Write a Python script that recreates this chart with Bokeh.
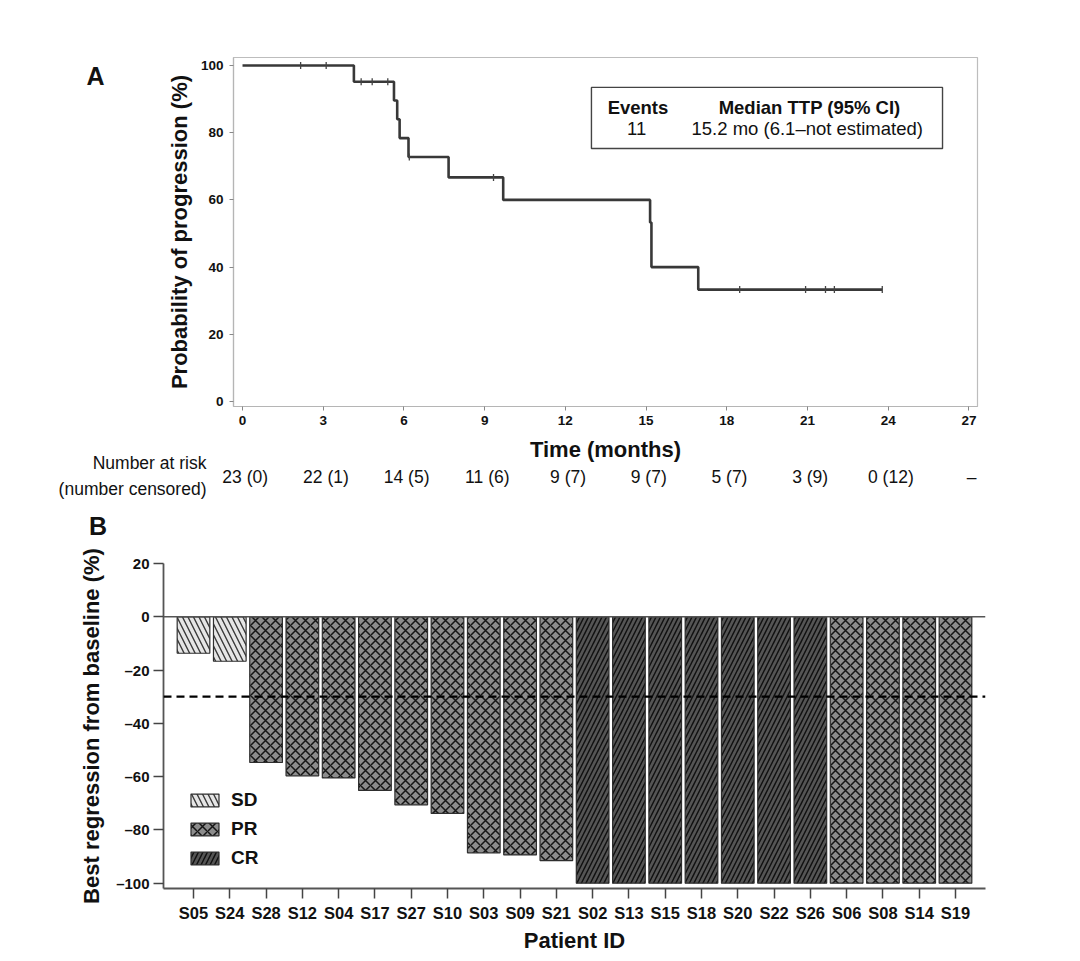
import numpy as np
from bokeh.plotting import figure
from bokeh.models import (Range1d, FixedTicker, LinearAxis, BoxAnnotation, Span,
                          Legend, LegendItem, Label)
from bokeh.core.properties import value
from bokeh.embed import file_html
from bokeh.resources import INLINE

FONT = "Liberation Sans"
INK = "#111111"

# ---------------- Panel A data (Kaplan-Meier, time to progression) ----------------
step_times = [0.0, 4.14, 5.63, 5.75, 5.84, 6.17, 7.66, 9.69, 15.15, 15.20, 16.94, 23.78]
step_probs = [100.0, 95.2, 89.6, 84.0, 78.4, 72.8, 66.7, 60.0, 53.3, 40.0, 33.3, 33.3]
censor_times = [2.16, 3.11, 4.41, 4.82, 5.40, 6.20, 9.33, 18.48, 20.93, 21.67, 22.0, 23.78]
censor_probs = [100.0, 100.0, 95.2, 95.2, 95.2, 72.8, 66.7, 33.3, 33.3, 33.3, 33.3, 33.3]
time_ticks = [0, 3, 6, 9, 12, 15, 18, 21, 24, 27]
prob_ticks = [0, 20, 40, 60, 80, 100]
risk_labels = ["23 (0)", "22 (1)", "14 (5)", "11 (6)", "9 (7)", "9 (7)",
               "5 (7)", "3 (9)", "0 (12)", "\u2013"]
n_events = "11"
median_ttp = "15.2 mo (6.1\u2013not estimated)"

# ---------------- Panel B data (waterfall) ----------------
patients = ["S05", "S24", "S28", "S12", "S04", "S17", "S27", "S10", "S03", "S09",
            "S21", "S02", "S13", "S15", "S18", "S20", "S22", "S26", "S06", "S08",
            "S14", "S19"]
regression = [-13.7, -16.7, -54.7, -59.7, -60.5, -65.2, -70.6, -73.8, -88.6, -89.4,
              -91.5, -100, -100, -100, -100, -100, -100, -100, -100, -100, -100, -100]
response = ["SD", "SD", "PR", "PR", "PR", "PR", "PR", "PR", "PR", "PR",
            "PR", "CR", "CR", "CR", "CR", "CR", "CR", "CR", "PR", "PR", "PR", "PR"]
regr_ticks = [20, 0, -20, -40, -60, -80, -100]
pr_threshold = -30

# ---------------- layout geometry (pixels) ----------------
W = 1064
A_LEFT, A_FW, A_TOP, A_FH = 233, 744, 57, 349
A_H = 431
A_X = (-0.335, 27.32)
A_Y = (-1.5, 102.4)
S_H = 114            # strip between panels (page y 431..545)
B_LEFT, B_FW, B_TOP, B_FH, B_BOT = 163, 822, 18, 325, 64


def style_axis(ax, label_size="13.5px", title_size="22px"):
    ax.minor_tick_line_color = None
    ax.major_tick_in = 0
    ax.major_label_text_font = FONT
    ax.major_label_text_font_style = "bold"
    ax.major_label_text_font_size = label_size
    ax.major_label_text_color = INK
    ax.axis_label_text_font = FONT
    ax.axis_label_text_font_style = "bold"
    ax.axis_label_text_font_size = title_size
    ax.axis_label_text_color = INK


# ---------------- Panel A ----------------
pa = figure(frame_width=A_FW, frame_height=A_FH, title=None,
            min_border_left=A_LEFT, min_border_right=W - A_LEFT - A_FW,
            min_border_top=A_TOP, min_border_bottom=A_H - A_TOP - A_FH,
            x_range=Range1d(*A_X), y_range=Range1d(*A_Y),
            output_backend="svg", toolbar_location=None)
pa.grid.visible = False
pa.outline_line_color = "#bdbdbd"
pa.outline_line_width = 1.2
pa.background_fill_color = "white"
pa.border_fill_color = "white"

pa.step(x=step_times, y=step_probs, mode="after", line_color="#383838", line_width=2.6)
pa.scatter(x=censor_times, y=censor_probs, marker="dash", angle=np.pi / 2, size=7,
           line_color="#444444", line_width=1.3)

for ax in (pa.xaxis[0], pa.yaxis[0]):
    style_axis(ax)
    ax.axis_line_color = "#b5b5b5"
    ax.axis_line_width = 1.2
    ax.major_tick_line_color = "#888888"
    ax.major_tick_out = 4
pa.xaxis.ticker = FixedTicker(ticks=time_ticks)
pa.yaxis.ticker = FixedTicker(ticks=prob_ticks)
pa.xaxis.major_label_standoff = 5
pa.yaxis.axis_label = "Probability of progression (%)"
pa.yaxis.major_label_standoff = 6
pa.yaxis.axis_label_standoff = 6

# panel letter "A" as a label-only axis on the left
pa.extra_y_ranges = {"letter": Range1d(*A_Y)}
ax_letter = LinearAxis(y_range_name="letter", ticker=FixedTicker(ticks=[97]),
                       major_label_overrides={97: "A"})
style_axis(ax_letter, label_size="25px")
ax_letter.axis_line_color = None
ax_letter.major_tick_line_color = None
ax_letter.major_label_standoff = 53
pa.add_layout(ax_letter, "left")

# summary box
pa.add_layout(BoxAnnotation(left=12.97, right=26.02, bottom=75.3, top=93.5,
                            fill_color="white", fill_alpha=1.0,
                            line_color="#444444", line_width=1.4, line_alpha=1.0))


def lab(p, x, y, s, size, bold=False, align="center"):
    p.add_layout(Label(x=x, y=y, text=s, text_font=FONT, text_font_size=size,
                       text_font_style="bold" if bold else "normal",
                       text_align=align, text_baseline="middle", text_color=INK))


lab(pa, 14.70, 87.6, "Events", "18.5px", bold=True)
lab(pa, 21.08, 87.6, "Median TTP (95% CI)", "18.5px", bold=True)
lab(pa, 14.65, 81.2, n_events, "18.5px")
lab(pa, 20.99, 81.2, median_ttp, "18.5px")

# ---------------- strip: axis title, number-at-risk table, letter B ----------------
scale_a = A_FW / (A_X[1] - A_X[0])
s_x0 = A_X[0] - A_LEFT / scale_a
s_x1 = A_X[1] + (W - A_LEFT - A_FW) / scale_a
ps = figure(frame_width=W, frame_height=S_H, title=None, min_border=0,
            x_range=Range1d(s_x0, s_x1), y_range=Range1d(A_H + S_H, A_H),
            x_axis_type=None, y_axis_type=None,
            output_backend="svg", toolbar_location=None)
ps.grid.visible = False
ps.outline_line_color = None
ps.background_fill_color = "white"
ps.border_fill_color = "white"


def txt(p, xs, ys, texts, size, bold=False, align="center"):
    p.text(x=xs, y=ys, text=texts, text_font=value(FONT), text_font_size=value(size),
           text_font_style="bold" if bold else "normal", text_align=align,
           text_baseline="middle", text_color=INK)


txt(ps, [(A_X[0] + A_X[1]) / 2], [449], ["Time (months)"], "22px", bold=True)
txt(ps, [-1.34, -1.34], [462, 488], ["Number at risk", "(number censored)"], "17.5px",
    align="right")
txt(ps, [t + 0.1 for t in time_ticks], [476] * len(time_ticks), risk_labels, "17.5px")
txt(ps, [-5.37], [525], ["B"], "25px", bold=True)

# ---------------- Panel B ----------------
pb = figure(frame_width=B_FW, frame_height=B_FH, title=None,
            min_border_left=B_LEFT, min_border_right=W - B_LEFT - B_FW,
            min_border_top=B_TOP, min_border_bottom=B_BOT,
            x_range=Range1d(-0.827, len(patients) - 1 + 0.827), y_range=Range1d(-102.0, 20.0),
            output_backend="svg", toolbar_location=None)
pb.grid.visible = False
pb.outline_line_color = None
pb.background_fill_color = "white"
pb.border_fill_color = "white"

styles = {
    "SD": dict(fill_color="#e6e6e6", hatch_pattern="left_diagonal_line", hatch_scale=11,
               hatch_color="#3a3a3a", hatch_weight=1.4),
    "PR": dict(fill_color="#8c8c8c", hatch_pattern="diagonal_cross", hatch_scale=10,
               hatch_color="#151515", hatch_weight=1.5),
    "CR": dict(fill_color="#555555", hatch_pattern="right_diagonal_line", hatch_scale=9,
               hatch_color="#111111", hatch_weight=1.5),
}
items = []
for grp in ["SD", "PR", "CR"]:
    idx = [i for i, r in enumerate(response) if r == grp]
    r = pb.vbar(x=idx, top=[regression[i] for i in idx], bottom=0, width=0.9,
                line_color="#2e2e2e", line_width=1.2, **styles[grp])
    items.append(LegendItem(label=grp, renderers=[r]))

pb.add_layout(Span(location=0, dimension="width", line_color="#555555", line_width=1.6))
pb.add_layout(Span(location=pr_threshold, dimension="width", line_color="#000000",
                   line_width=2.2, line_dash="8 5"))

legend = Legend(items=items, location=(24, 19), glyph_width=35, glyph_height=16,
                label_text_font=FONT, label_text_font_size="19px",
                label_text_font_style="bold", label_text_color=INK,
                label_standoff=9, spacing=7, padding=0, margin=0,
                border_line_color=None, background_fill_alpha=0.0)
pb.add_layout(legend)

for ax in (pb.xaxis[0], pb.yaxis[0]):
    style_axis(ax)
    ax.axis_line_color = "#555555"
    ax.axis_line_width = 1.8
    ax.major_tick_line_color = "#444444"
    ax.major_tick_line_width = 1.5
    ax.major_tick_out = 10

pb.xaxis.ticker = FixedTicker(ticks=list(range(len(patients))))
pb.xaxis.major_label_overrides = {i: pid for i, pid in enumerate(patients)}
pb.xaxis.major_label_text_font_size = "16.5px"
pb.xaxis.major_label_standoff = 5
pb.xaxis.axis_label = "Patient ID"
pb.xaxis.axis_label_standoff = 3

pb.yaxis.ticker = FixedTicker(ticks=regr_ticks)
pb.yaxis.major_label_overrides = {v: (("\u2013" + str(-v)) if v < 0 else str(v)) for v in regr_ticks}
pb.yaxis.major_label_text_font_size = "15px"
pb.yaxis.major_label_standoff = 4
pb.yaxis.axis_label = "Best regression from baseline (%)"
pb.yaxis.axis_label_standoff = 9

open("out.html", "w").write(file_html([pa, ps, pb], INLINE))
